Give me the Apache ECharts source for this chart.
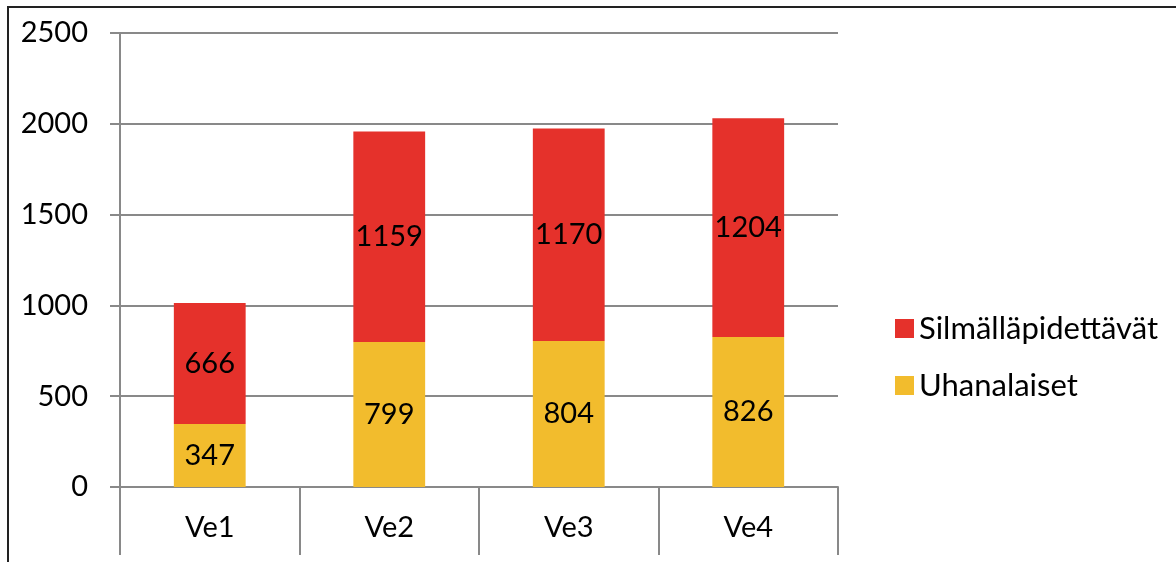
<!DOCTYPE html>
<html>
<head>
<meta charset="utf-8">
<script src="https://cdn.jsdelivr.net/npm/echarts@6/dist/echarts.min.js"></script>
<style>
  html, body { margin: 0; padding: 0; background: #fff; }
  #chart { width: 1176px; height: 562px; }
</style>
</head>
<body>
<div id="chart"></div>
<script>
// data
var categories = ['Ve1', 'Ve2', 'Ve3', 'Ve4'];
var uhanalaiset = [347, 799, 804, 826];
var silmallapidettavat = [666, 1159, 1170, 1204];
var seriesNames = ['Uhanalaiset', 'Silmälläpidettävät'];

var FONT = 'Lato';
var AXIS_GREY = '#898989';

var chart = echarts.init(document.getElementById('chart'));

function barSeries(name, values, color) {
  return {
    name: name,
    type: 'bar',
    stack: 'total',
    barWidth: '40%',
    data: values,
    itemStyle: { color: color },
    label: {
      show: true,
      position: 'inside',
      color: '#000',
      fontFamily: FONT,
      fontSize: 29
    }
  };
}

chart.setOption({
  animation: false,
  textStyle: { fontFamily: FONT },
  graphic: [{
    type: 'rect',
    shape: { x: 8, y: 7, width: 1180, height: 570 },
    style: { fill: 'none', stroke: '#222', lineWidth: 2 },
    silent: true
  }],
  grid: { left: 120, right: 338, top: 33, bottom: 75 },
  legend: {
    orient: 'vertical',
    left: 890,
    top: 308,
    itemWidth: 19,
    itemHeight: 19,
    itemGap: 26,
    icon: 'rect',
    data: [seriesNames[1], seriesNames[0]],
    textStyle: { fontFamily: FONT, fontSize: 31, color: '#000' }
  },
  xAxis: {
    type: 'category',
    data: categories,
    axisLine: { lineStyle: { color: AXIS_GREY, width: 2 } },
    axisTick: { show: true, length: 68, lineStyle: { color: AXIS_GREY, width: 2 } },
    axisLabel: { color: '#000', fontFamily: FONT, fontSize: 29, margin: 26 }
  },
  yAxis: {
    type: 'value',
    min: 0,
    max: 2500,
    interval: 500,
    axisLine: { show: true, lineStyle: { color: AXIS_GREY, width: 2 } },
    axisTick: { show: true, length: 10, lineStyle: { color: AXIS_GREY, width: 2 } },
    splitLine: { lineStyle: { color: AXIS_GREY, width: 2 } },
    axisLabel: {
      color: '#000', fontFamily: FONT, fontSize: 29, margin: 32,
      formatter: function (v) { return String(v); }
    }
  },
  series: [
    barSeries(seriesNames[0], uhanalaiset, '#F2BC2D'),
    barSeries(seriesNames[1], silmallapidettavat, '#E5312B')
  ]
});
</script>
</body>
</html>
